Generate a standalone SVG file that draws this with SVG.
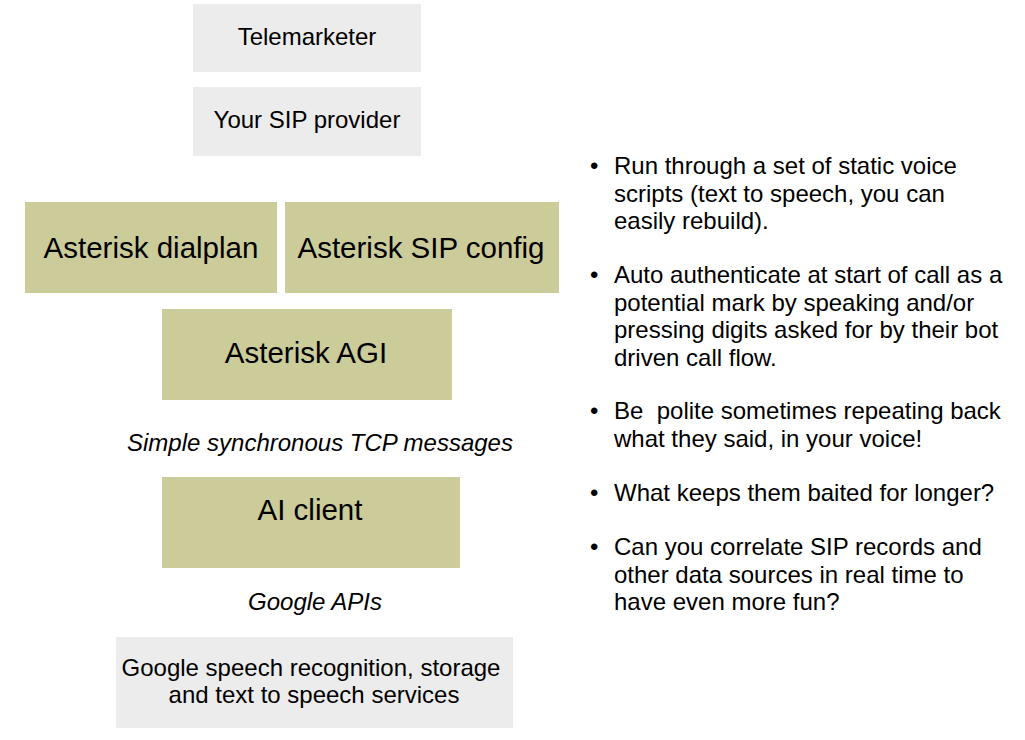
<svg xmlns="http://www.w3.org/2000/svg" width="1025" height="740" viewBox="0 0 1025 740">
<style>
.grey{fill:#ececec}
.olive{fill:#cccb9a}
text{font-family:"Liberation Sans",Arial,sans-serif;fill:#000}
.s{font-size:24px}
.b{font-size:29.5px}
.i{font-style:italic}
.m{text-anchor:middle}
.r{font-size:24px}
</style>
<rect width="1025" height="740" fill="#fff"/>
<g id="telemarketer"><rect class="grey" x="193" y="4" width="228" height="68"/><text class="s m" x="307" y="45">Telemarketer</text></g>
<g id="sip-provider"><rect class="grey" x="193" y="87" width="228" height="69"/><text class="s m" x="307" y="128">Your SIP provider</text></g>
<g id="dialplan"><rect class="olive" x="25" y="202" width="252" height="91"/><text class="b m" x="151" y="258">Asterisk dialplan</text></g>
<g id="sip-config"><rect class="olive" x="285" y="202" width="274" height="91"/><text class="b m" x="421" y="258">Asterisk SIP config</text></g>
<g id="agi"><rect class="olive" x="162" y="309" width="290" height="91"/><text class="b m" x="306" y="363">Asterisk AGI</text></g>
<g id="tcp-label"><text class="s i m" x="320" y="451">Simple synchronous TCP messages</text></g>
<g id="ai-client"><rect class="olive" x="162" y="477" width="298" height="91"/><text class="b m" x="310" y="520">AI client</text></g>
<g id="apis-label"><text class="s i m" x="315" y="610">Google APIs</text></g>
<g id="google-services"><rect class="grey" x="116" y="637" width="397" height="91"/><text class="s m" x="311" y="676">Google speech recognition, storage</text><text class="s m" x="314" y="703">and text to speech services</text></g>
<g id="connectors"></g>
<g id="notes">
<text class="r" x="590" y="174">•</text>
<text class="r" x="614" y="174">Run through a set of static voice</text>
<text class="r" x="614" y="201.5">scripts (text to speech, you can</text>
<text class="r" x="614" y="229">easily rebuild).</text>
<text class="r" x="590" y="283">•</text>
<text class="r" x="614" y="283">Auto authenticate at start of call as a</text>
<text class="r" x="614" y="310.5">potential mark by speaking and/or</text>
<text class="r" x="614" y="338">pressing digits asked for by their bot</text>
<text class="r" x="614" y="365.5">driven call flow.</text>
<text class="r" x="590" y="419">•</text>
<text class="r" x="614" y="419" xml:space="preserve">Be  polite sometimes repeating back</text>
<text class="r" x="614" y="446.5">what they said, in your voice!</text>
<text class="r" x="590" y="501">•</text>
<text class="r" x="614" y="501">What keeps them baited for longer?</text>
<text class="r" x="590" y="555">•</text>
<text class="r" x="614" y="555">Can you correlate SIP records and</text>
<text class="r" x="614" y="582.5">other data sources in real time to</text>
<text class="r" x="614" y="610">have even more fun?</text>
</g>
</svg>
